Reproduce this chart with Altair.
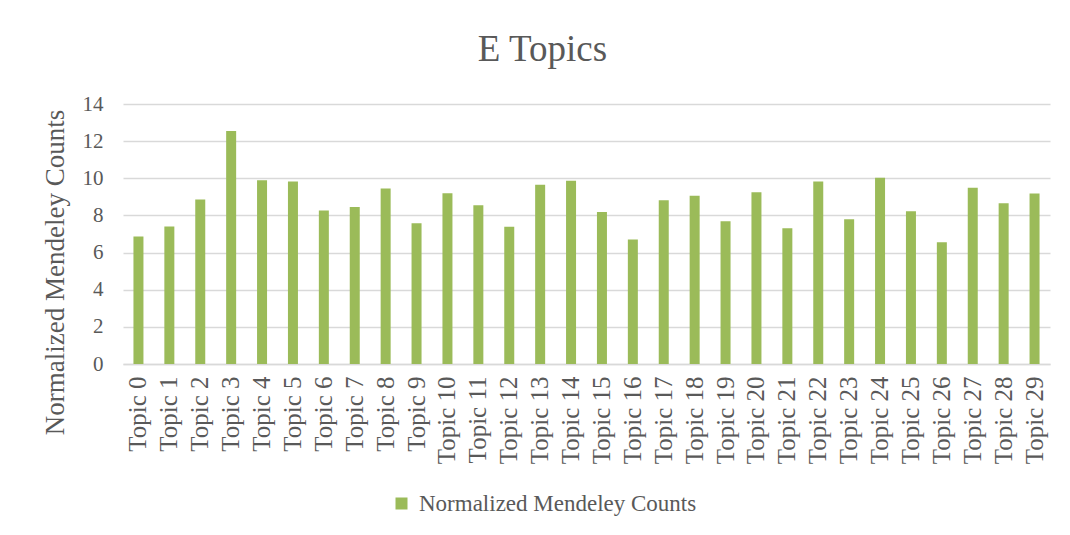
import altair as alt
import pandas as pd

topics = [f"Topic {i}" for i in range(30)]
values = [6.86, 7.40, 8.86, 12.54, 9.90, 9.83, 8.27, 8.46, 9.45, 7.58,
          9.20, 8.55, 7.39, 9.65, 9.87, 8.18, 6.70, 8.82, 9.06, 7.69,
          9.25, 7.31, 9.83, 7.80, 10.03, 8.23, 6.56, 9.49, 8.66, 9.18]
series = "Normalized Mendeley Counts"

df = pd.DataFrame({"topic": topics, "value": values, "series": [series] * len(topics)})

FONT = "Liberation Serif"
GREY = "#595959"

chart = alt.Chart(df).mark_bar(size=10).encode(
    x=alt.X("topic:N", sort=topics, title=None,
            scale=alt.Scale(paddingInner=0, paddingOuter=0),
            axis=alt.Axis(labelAngle=270, labelFontSize=25, labelFont=FONT,
                          labelColor=GREY, ticks=False, labelPadding=12,
                          domainColor="#d9d9d9", domainWidth=1.3,
                          labelBaseline="middle", labelAlign="right")),
    y=alt.Y("value:Q", title="Normalized Mendeley Counts",
            scale=alt.Scale(domain=[0, 14]),
            axis=alt.Axis(values=list(range(0, 15, 2)), labelFontSize=21,
                          labelFont=FONT, labelColor=GREY, ticks=False,
                          labelPadding=20, domain=False, gridColor="#d9d9d9",
                          gridWidth=1.3, titleFont=FONT, titleFontSize=27,
                          titleColor=GREY, titleFontWeight="normal",
                          titleAngle=270, titleAlign="center",
                          titleBaseline="alphabetic", titleX=-60, titleY=168)),
    color=alt.Color("series:N", scale=alt.Scale(range=["#9BBB59"]),
                    legend=alt.Legend(title=None, orient="none", legendX=267,
                                      legendY=388, symbolType="square",
                                      symbolSize=144, symbolStrokeWidth=0,
                                      labelFont=FONT, labelFontSize=23,
                                      labelColor=GREY, labelLimit=500,
                                      labelOffset=6)),
).properties(
    width=927,
    height=260,
    title=alt.TitleParams("E Topics", font=FONT, fontSize=37, color=GREY,
                          fontWeight="normal", anchor="middle", dx=-44,
                          offset=24),
    autosize=alt.AutoSizeParams(type="none"),
    padding={"left": 115, "top": 96, "right": 12, "bottom": 163},
).configure_view(stroke=None)

chart.save("out.html", embed_options={"renderer": "svg", "actions": False})
